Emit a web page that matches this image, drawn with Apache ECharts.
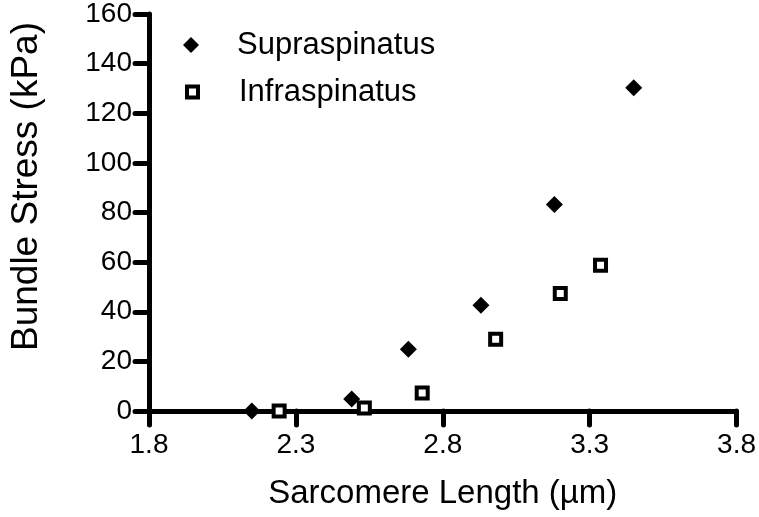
<!DOCTYPE html>
<html>
<head>
<meta charset="utf-8">
<script src="https://cdn.jsdelivr.net/npm/echarts@6/dist/echarts.min.js"></script>
<style>
  html, body { margin: 0; padding: 0; background: #fff; }
  #chart { width: 759px; height: 517px; }
</style>
</head>
<body>
<div id="chart"></div>
<script>
  // sarcomere length (um) and bundle stress (kPa)
  var supraLength = [2.15, 2.49, 2.683, 2.93, 3.18, 3.45]
  var supraStress = [0, 4.8, 24.9, 42.6, 83.2, 130.3]
  var infraLength = [2.243, 2.533, 2.73, 2.98, 3.2, 3.337]
  var infraStress = [0, 1.2, 7.3, 28.9, 47.4, 58.7]

  var xTicks = [1.8, 2.3, 2.8, 3.3, 3.8]
  var yTicks = [0, 20, 40, 60, 80, 100, 120, 140, 160]

  var font = 'Liberation Sans, Arial, sans-serif'

  function pairs(xs, ys) {
    return xs.map(function (x, i) { return [x, ys[i]] })
  }

  var legendText = {
    color: '#000',
    fontSize: 31,
    fontFamily: font,
    lineHeight: 36
  }

  var chart = echarts.init(document.getElementById('chart'), null, { renderer: 'canvas' })
  chart.setOption({
    animation: false,
    backgroundColor: '#fff',
    grid: {
      left: 138,
      right: 21,
      top: 13,
      bottom: 106
    },
    // one legend per series so each icon can keep its own size
    legend: [
      {
        orient: 'vertical',
        left: 178,
        top: 22,
        itemWidth: 16,
        itemHeight: 16,
        textStyle: Object.assign({ padding: [0, 0, 0, 33] }, legendText),
        data: ['Supraspinatus']
      },
      {
        orient: 'vertical',
        left: 180,
        top: 69,
        itemWidth: 11,
        itemHeight: 11,
        textStyle: Object.assign({ padding: [0, 0, 0, 36] }, legendText),
        data: [{ name: 'Infraspinatus', itemStyle: { color: '#fff', borderColor: '#000', borderWidth: 4 } }]
      }
    ],
    xAxis: {
      type: 'value',
      min: xTicks[0],
      max: xTicks[xTicks.length - 1],
      interval: 0.5,
      name: 'Sarcomere Length (\u00b5m)',
      nameLocation: 'middle',
      nameGap: 66,
      nameTextStyle: { color: '#000', fontSize: 33, fontFamily: font },
      splitLine: { show: false },
      axisLine: { show: true, onZero: false, lineStyle: { color: '#000', width: 5 } },
      axisTick: { show: true, length: 14, lineStyle: { color: '#000', width: 5, cap: 'round' } },
      axisLabel: {
        color: '#000',
        fontSize: 28,
        fontFamily: font,
        margin: 20,
        formatter: function (v) { return v.toFixed(1) }
      }
    },
    yAxis: {
      type: 'value',
      min: yTicks[0],
      max: yTicks[yTicks.length - 1],
      interval: 20,
      name: 'Bundle Stress (kPa)',
      nameLocation: 'middle',
      nameGap: 104,
      nameTextStyle: { color: '#000', fontSize: 37, fontFamily: font, padding: [0, 0, 0, 52] },
      splitLine: { show: false },
      axisLine: { show: true, lineStyle: { color: '#000', width: 5 } },
      axisTick: { show: true, length: 14, lineStyle: { color: '#000', width: 5, cap: 'round' } },
      axisLabel: { color: '#000', fontSize: 28, fontFamily: font, margin: 17 }
    },
    series: [
      {
        name: 'Supraspinatus',
        type: 'scatter',
        symbol: 'diamond',
        symbolSize: 17,
        itemStyle: { color: '#000', opacity: 1 },
        data: pairs(supraLength, supraStress),
        z: 3
      },
      {
        name: 'Infraspinatus',
        type: 'scatter',
        symbol: 'rect',
        symbolSize: 11,
        itemStyle: { color: '#fff', borderColor: '#000', borderWidth: 4, opacity: 1 },
        data: pairs(infraLength, infraStress),
        z: 4
      }
    ]
  })
</script>
</body>
</html>
